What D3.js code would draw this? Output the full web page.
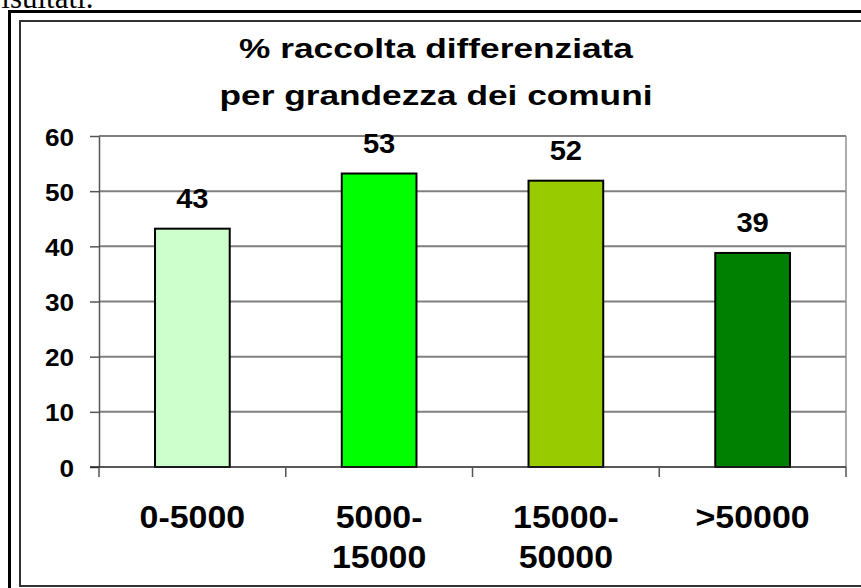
<!DOCTYPE html>
<html>
<head>
<meta charset="utf-8">
<script src="https://cdn.jsdelivr.net/npm/d3@7"></script>
<style>
	body { margin: 0; background: #fff; }
	svg { display: block; }
	text { font-family: "Liberation Sans", Arial, sans-serif; font-weight: bold; fill: #000; }
</style>
</head>
<body>
<div id="chart"></div>
<script>

const categories = ["0-5000", "5000-\n15000", "15000-\n50000", ">50000"];
const values = [43.2, 53.2, 51.9, 38.8];
const colors = ["#ccffcc", "#00ff00", "#99cc00", "#008000"];
const yTicks = [0, 10, 20, 30, 40, 50, 60];
const titleLines = ["% raccolta differenziata", "per grandezza dei comuni"];

let width = 861;
let height = 588;

let svg = d3.select('#chart').append('svg')
.attr('width', width)
.attr('height', height);

// leftover of the page text above the chart
svg.append('text')
.attr('x', -9)
.attr('y', 8)
.style('font-family', '"Liberation Serif", "Times New Roman", serif')
.style('font-weight', 'normal')
.style('font-size', '31px')
.text('risultati.');

svg.append('rect')
.attr('x', 9.5).attr('y', 11.5)
.attr('width', 1000).attr('height', 1000)
.attr('fill', 'none')
.style('stroke', '#000')
.style('stroke-width', 3);

svg.append('rect')
.attr('x', 20).attr('y', 21)
.attr('width', 1000).attr('height', 565)
.attr('fill', '#fff')
.style('stroke', '#333')
.style('stroke-width', 2);

const stretchText = (sel, x, y, sx) => sel.attr('transform', `translate(${x},${y}) scale(${sx},1)`);

let x = d3.scaleBand()
.domain(categories)
.range([99, 846])
.paddingInner(0.6)
.paddingOuter(0.3);

let y = d3.scaleLinear()
.domain([0, 60])
.range([467, 136]);

let plot = svg.append('g');

plot.selectAll('.grid')
.data(yTicks.filter(d => d > 0))
.enter()
.append('line')
.attr('class', 'grid')
.attr('x1', x.range()[0]).attr('x2', x.range()[1])
.attr('y1', d => y(d)).attr('y2', d => y(d))
.style('stroke', '#808080')
.style('stroke-width', 2);

plot.append('line')
.attr('x1', x.range()[1]).attr('x2', x.range()[1])
.attr('y1', y(60)).attr('y2', y(0))
.style('stroke', '#909090')
.style('stroke-width', 1.5);

plot.selectAll('.bar')
.data(values)
.enter()
.append('rect')
.attr('class', 'bar')
.attr('x', (d, i) => x(categories[i]))
.attr('y', d => y(d))
.attr('width', x.bandwidth())
.attr('height', d => y(0) - y(d))
.attr('fill', (d, i) => colors[i])
.style('stroke', '#000')
.style('stroke-width', 2);

plot.selectAll('.value')
.data(values)
.enter()
.append('text')
.attr('class', 'value')
.attr('text-anchor', 'middle')
.style('font-size', '27px')
.text(d => d3.format('.0f')(d))
.each(function (d, i) {
	stretchText(d3.select(this), x(categories[i]) + x.bandwidth() / 2, y(d) - 21, 1.08);
});

let yAxis = svg.append('g')
.attr('transform', `translate(${x.range()[0]},0)`)
.call(d3.axisLeft(y).tickValues(yTicks).tickSize(9).tickSizeOuter(0));

yAxis.select('.domain').style('stroke', '#555').style('stroke-width', 1.5);
yAxis.selectAll('.tick line').style('stroke', '#555').style('stroke-width', 1.5);
yAxis.selectAll('.tick text')
.attr('x', null).attr('dy', null)
.style('font-size', '24px')
.each(function () {
	stretchText(d3.select(this), -25, 9, 1.09);
});

let boundaries = categories.map(c => x(c) + x.bandwidth() / 2 - x.step() / 2).concat([x.range()[1]]);

let xAxis = svg.append('g');

xAxis.append('line')
.attr('x1', x.range()[0] - 9).attr('x2', x.range()[1])
.attr('y1', y(0)).attr('y2', y(0))
.style('stroke', '#222')
.style('stroke-width', 1.5);

xAxis.selectAll('.xtick')
.data(boundaries)
.enter()
.append('line')
.attr('class', 'xtick')
.attr('x1', d => d).attr('x2', d => d)
.attr('y1', y(0)).attr('y2', y(0) + 10)
.style('stroke', '#555')
.style('stroke-width', 1.5);

categories.forEach(c => {
	c.split('\n').forEach((line, j) => {
		let t = xAxis.append('text')
		.attr('text-anchor', 'middle')
		.style('font-size', '32px')
		.text(line);
		stretchText(t, x(c) + x.bandwidth() / 2, 528 + j * 40, 1.06);
	});
});

titleLines.forEach((line, j) => {
	let t = svg.append('text')
	.attr('text-anchor', 'middle')
	.style('font-size', '28px')
	.text(line);
	stretchText(t, 436, 58 + j * 47, 1.26);
});

</script>
</body>
</html>
